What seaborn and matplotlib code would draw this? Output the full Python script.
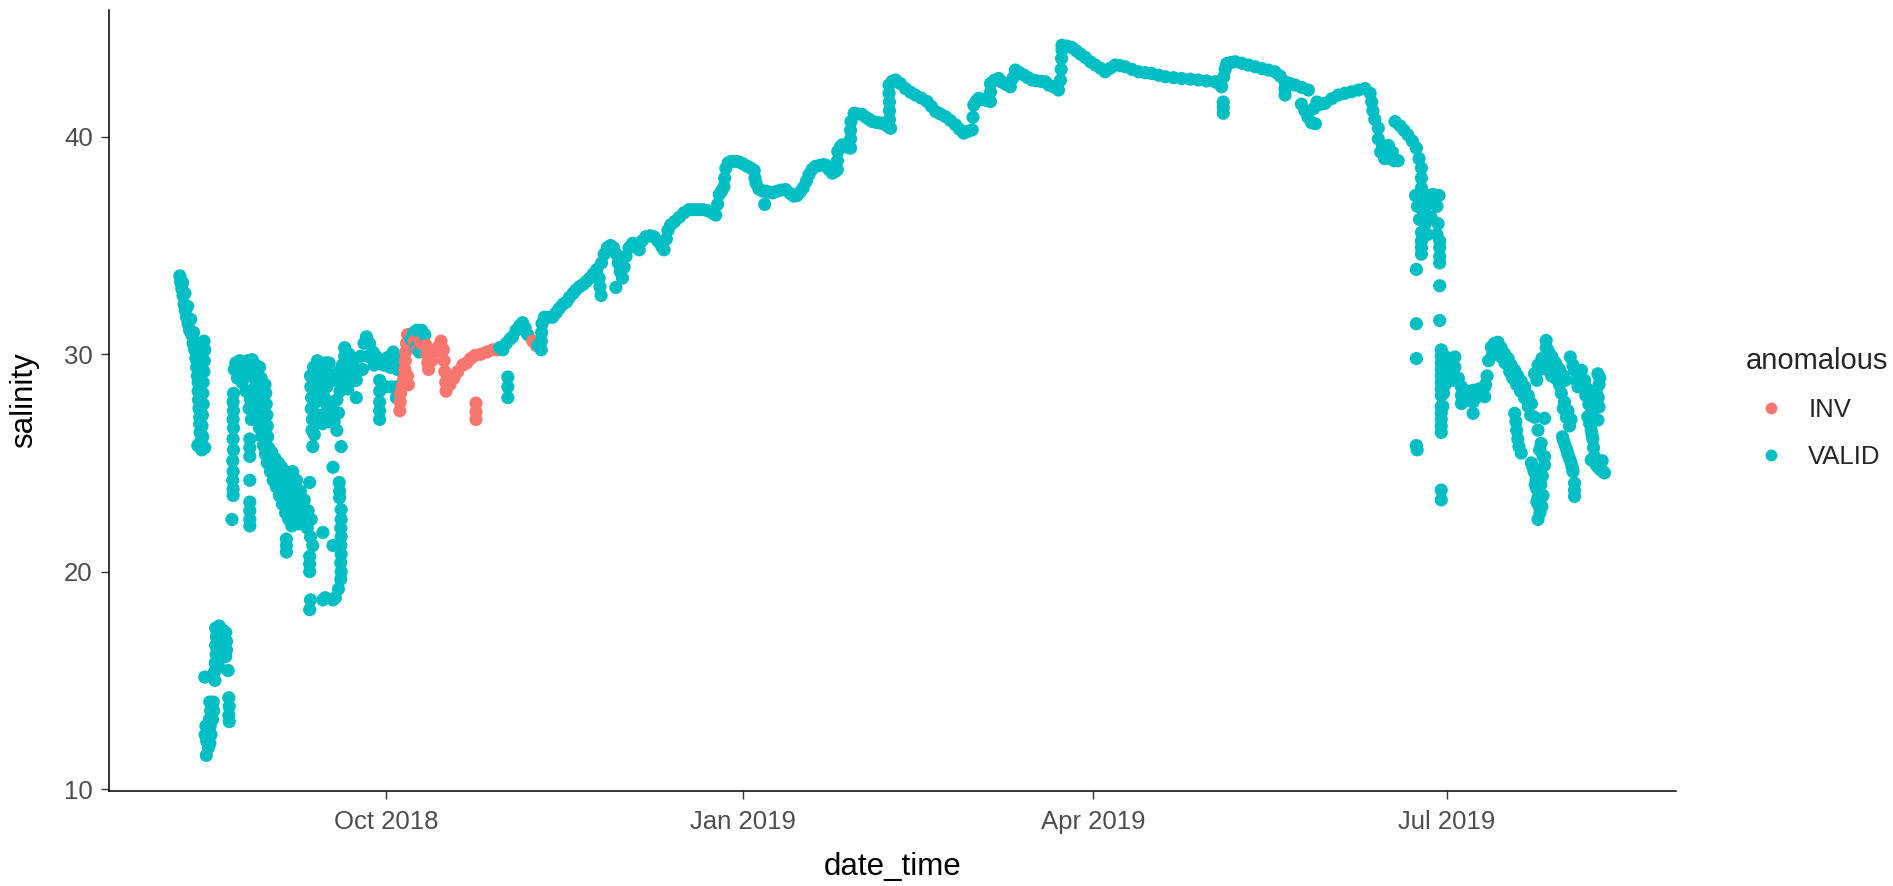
import numpy as np
import pandas as pd
import matplotlib
matplotlib.use("Agg")
import matplotlib.pyplot as plt
import matplotlib.dates as mdates
import seaborn as sns

# Sensor readings: (days relative to 1 Oct 2018, salinity)
ORIGIN = pd.Timestamp("2018-10-01")

summer_2018 = [
    (-53.0, 33.6), (-52.8, 33.3), (-52.5, 33.0), (-52.2, 32.7), (-51.9, 32.3), (-51.6, 32.0),
    (-51.3, 31.7), (-50.9, 31.4), (-50.5, 31.1), (-50.0, 30.9), (-49.6, 30.5), (-49.2, 30.2),
    (-48.9, 29.8), (-48.7, 29.4), (-48.5, 29.0), (-48.3, 28.7), (-48.3, 28.3), (-48.2, 27.9),
    (-48.1, 27.5), (-47.9, 27.1), (-47.9, 26.8), (-47.8, 26.4), (-47.6, 26.0), (-47.4, 25.6),
    (-52.3, 33.3), (-51.7, 32.8), (-51.0, 32.2), (-50.2, 31.6), (-49.5, 31.0), (-48.6, 30.5),
    (-47.6, 30.4), (-46.8, 30.6), (-46.6, 30.2), (-46.7, 29.7), (-46.8, 29.2), (-47.0, 28.7),
    (-47.1, 28.2), (-47.0, 27.7), (-47.2, 27.2), (-47.3, 26.7), (-47.1, 26.2), (-48.4, 25.8),
    (-46.6, 25.7),
    (-43.8, 17.4), (-42.9, 17.5), (-41.9, 17.3), (-41.2, 17.2), (-41.0, 16.8), (-41.0, 16.4),
    (-43.6, 17.0), (-42.5, 16.9), (-43.8, 16.6), (-42.4, 16.4), (-43.7, 16.2), (-42.6, 16.0),
    (-41.2, 16.1), (-43.9, 15.8), (-43.0, 15.6), (-44.1, 15.4), (-46.6, 15.15), (-44.0, 15.0),
    (-40.6, 15.45), (-40.4, 14.2), (-40.3, 13.8), (-40.4, 13.4), (-40.3, 13.1),
    (-45.3, 14.0), (-44.4, 14.0), (-45.1, 13.6), (-44.3, 13.6), (-45.4, 13.2), (-44.6, 13.2),
    (-46.3, 12.9), (-45.2, 12.9), (-46.5, 12.5), (-45.0, 12.5), (-46.1, 12.2), (-45.3, 12.1),
    (-45.7, 11.9), (-46.2, 11.55),
    (-39.2, 28.2), (-39.3, 27.8), (-39.2, 27.4), (-39.3, 27.0), (-39.2, 26.6), (-39.3, 26.1),
    (-39.2, 25.6), (-39.4, 25.1), (-39.3, 24.6), (-39.4, 24.2), (-39.3, 23.8), (-39.3, 23.5),
    (-39.6, 22.4),
    (-39.0, 29.3), (-38.6, 29.6), (-37.6, 29.7), (-36.6, 29.4), (-35.6, 29.7), (-34.4, 29.75),
    (-33.5, 29.5), (-32.5, 29.4), (-38.2, 28.9), (-37.0, 28.7), (-35.2, 29.1), (-33.9, 28.9),
    (-32.1, 28.9), (-31.1, 28.6), (-36.0, 28.3), (-34.8, 27.9), (-33.2, 28.1), (-35.2, 27.5),
    (-34.6, 27.0), (-37.4, 29.2), (-36.2, 29.0), (-34.0, 28.4), (-32.8, 28.6),
    (-35.0, 26.1), (-35.0, 25.7), (-35.0, 25.3), (-35.0, 24.2), (-35.0, 23.2), (-35.0, 22.8),
    (-35.0, 22.4), (-35.0, 22.1),
    (-33.5, 27.5), (-33.0, 27.0), (-32.5, 26.6), (-32.0, 26.2), (-31.5, 25.8), (-31.0, 25.4),
    (-30.5, 25.0), (-29.7, 24.6), (-29.0, 24.2), (-28.2, 23.9), (-27.4, 23.5), (-26.6, 23.1),
    (-25.8, 22.7), (-25.0, 22.4), (-24.2, 22.1), (-32.2, 27.6), (-31.6, 27.0), (-31.1, 26.5),
    (-29.4, 25.5), (-28.5, 25.2), (-27.6, 25.0), (-26.8, 24.8), (-26.0, 24.6), (-25.2, 24.5),
    (-30.9, 28.2), (-30.8, 27.7), (-30.6, 27.2), (-30.5, 26.7), (-30.4, 26.2), (-30.2, 25.7),
    (-29.8, 25.2), (-29.0, 24.9), (-28.2, 24.7), (-27.4, 24.5), (-26.6, 24.3), (-25.8, 24.1),
    (-25.0, 24.0), (-24.2, 23.8), (-23.4, 23.5), (-22.6, 23.2), (-21.8, 22.8), (-21.0, 22.4),
    (-20.2, 22.0), (-19.4, 21.6), (-18.8, 21.2), (-28.5, 24.2), (-27.4, 23.9), (-26.4, 23.7),
    (-25.4, 23.4), (-24.4, 23.0), (-23.4, 22.6), (-22.4, 22.2), (-24.0, 24.6), (-23.0, 24.2),
    (-22.0, 23.7), (-21.0, 23.3), (-20.0, 22.8), (-19.2, 22.4), (-25.6, 21.5), (-25.6, 21.2),
    (-25.6, 20.9),
    (-19.4, 29.0), (-19.3, 28.5), (-19.1, 28.0), (-19.2, 27.5), (-18.9, 27.0), (-19.0, 26.5),
    (-18.6, 29.4), (-17.6, 29.7), (-16.6, 29.5), (-15.6, 29.6), (-14.6, 29.6), (-17.8, 28.8),
    (-16.8, 28.4), (-15.8, 28.0), (-15.0, 27.6), (-14.1, 27.3), (-13.3, 26.9), (-12.6, 26.5),
    (-17.1, 27.2), (-16.3, 26.8), (-13.1, 28.8), (-12.1, 29.2), (-11.2, 29.5), (-10.6, 30.3),
    (-10.6, 29.9), (-18.2, 29.0), (-17.2, 28.3), (-16.0, 29.0), (-15.2, 28.5), (-14.3, 28.8),
    (-13.5, 27.8), (-12.6, 27.9), (-11.8, 28.3), (-10.8, 28.8), (-10.0, 29.6), (-18.0, 27.8),
    (-17.4, 29.2), (-14.8, 29.1), (-12.2, 27.3), (-9.8, 28.4), (-18.4, 26.3), (-14.6, 26.9),
    (-18.8, 25.75), (-19.6, 24.1), (-19.6, 20.7), (-19.6, 20.35), (-19.6, 20.0),
    (-19.4, 18.7), (-19.6, 18.25), (-16.2, 21.8), (-16.2, 18.7), (-15.6, 18.8),
    (-13.6, 24.8), (-12.0, 24.1), (-11.9, 23.7), (-11.9, 23.4), (-11.5, 22.85), (-11.5, 22.4),
    (-11.6, 22.0), (-11.5, 21.6), (-11.6, 21.2), (-11.5, 20.8), (-11.6, 20.4), (-11.5, 20.0),
    (-11.6, 19.65), (-12.2, 19.2), (-13.0, 18.8), (-13.6, 18.7), (-13.6, 21.2), (-11.5, 25.75),
    (-9.5, 30.0), (-8.5, 29.7), (-7.6, 29.3), (-7.6, 28.8), (-7.6, 28.0), (-6.5, 29.9),
    (-5.6, 30.5), (-5.0, 30.8), (-4.2, 30.5), (-3.3, 30.1), (-2.5, 29.9), (-1.5, 29.6),
    (-0.5, 29.5), (0.5, 29.85), (1.1, 29.4), (-1.6, 28.8), (-1.6, 28.3), (-1.6, 27.8),
    (-1.6, 27.4), (-1.6, 27.0), (0.1, 28.5), (1.4, 28.5), (2.7, 28.5), (2.7, 28.0),
    (1.9, 30.1), (2.8, 29.8), (3.0, 29.3), (-9.0, 29.2), (-8.3, 28.8), (-6.0, 29.3),
    (-4.6, 29.9), (-3.0, 29.5),
]

autumn_2018 = [
    (6.4, 30.7), (7.2, 31.0), (8.0, 31.1), (9.2, 31.1), (10.0, 30.9), (7.8, 30.3), (8.6, 30.1),
    (29.3, 30.3), (30.1, 30.2), (31.0, 30.5), (32.0, 30.7), (32.6, 30.8), (33.5, 31.1),
    (34.4, 31.3), (35.2, 31.45), (35.9, 31.2), (36.5, 30.9), (31.4, 28.95), (31.4, 28.5),
    (31.4, 28.0), (39.2, 30.4), (40.0, 30.2), (40.0, 30.6), (40.1, 31.0), (40.2, 31.4),
    (40.8, 31.7), (41.8, 31.7), (42.9, 31.7), (43.8, 31.9), (44.6, 32.1), (45.6, 32.3),
    (46.5, 32.4), (47.2, 32.6), (48.2, 32.8), (48.9, 32.95), (49.8, 33.1), (50.7, 33.2),
    (51.6, 33.35), (52.5, 33.5), (53.4, 33.7), (54.3, 33.9), (54.9, 33.5), (55.1, 33.1),
    (55.4, 32.7), (55.5, 34.2), (56.2, 34.6), (57.0, 34.9), (57.8, 35.0), (58.6, 34.9),
    (59.3, 34.6), (59.2, 33.07), (59.8, 34.2), (60.3, 33.8), (60.9, 33.5), (61.3, 34.0),
    (61.8, 34.5), (62.6, 34.9), (63.5, 35.1), (64.4, 35.0), (65.2, 34.8), (65.9, 35.2),
    (66.9, 35.4), (68.0, 35.45), (69.0, 35.4), (70.0, 35.2), (71.0, 34.95), (71.6, 34.8),
    (72.2, 35.3), (72.6, 35.7), (73.3, 35.95), (74.3, 36.1), (75.5, 36.3), (76.7, 36.5),
    (78.0, 36.65), (79.2, 36.65), (80.4, 36.65), (81.6, 36.65), (82.8, 36.6), (84.0, 36.5),
    (84.9, 36.4), (85.4, 36.9), (85.8, 37.35), (86.4, 37.5), (87.0, 37.7), (87.2, 38.1),
    (87.5, 38.55), (88.1, 38.8), (88.9, 38.87), (89.9, 38.87), (90.9, 38.84),
]

winter_2019 = [
    (92.0, 38.75), (93.0, 38.64), (94.0, 38.55), (94.8, 38.45), (95.0, 38.1), (95.3, 37.85),
    (96.0, 37.6), (97.0, 37.5), (97.8, 37.5), (97.5, 36.89), (98.7, 37.45), (99.6, 37.42),
    (100.7, 37.5), (101.8, 37.55), (102.9, 37.57), (104.0, 37.4), (105.0, 37.27), (105.8, 37.3),
    (106.6, 37.45), (107.4, 37.65), (108.2, 37.95), (108.9, 38.26), (109.7, 38.5), (110.6, 38.64),
    (111.6, 38.68), (112.5, 38.72), (113.2, 38.7), (114.0, 38.5), (114.9, 38.33), (115.6, 38.4),
    (116.2, 38.49), (116.2, 38.9), (116.3, 39.33), (117.0, 39.55), (117.5, 39.63), (118.3, 39.6),
    (119.0, 39.5), (119.6, 39.48), (119.6, 39.9), (119.6, 40.3), (119.7, 40.7), (120.5, 41.08),
    (121.5, 41.05), (122.6, 41.03), (123.5, 40.9), (124.4, 40.8), (125.2, 40.7), (126.1, 40.67),
    (127.0, 40.64), (127.7, 40.62), (128.6, 40.55), (129.4, 40.45), (129.9, 40.39), (129.6, 40.8),
    (129.6, 41.2), (129.6, 41.6), (129.5, 42.0), (129.5, 42.38), (130.3, 42.55), (131.2, 42.61),
    (132.4, 42.45), (133.7, 42.22), (135.0, 42.05), (136.3, 41.92), (137.8, 41.78), (139.3, 41.62),
    (140.4, 41.4), (141.5, 41.16), (142.7, 41.05), (144.0, 40.93), (145.3, 40.75), (146.6, 40.55),
    (147.6, 40.35), (148.7, 40.17), (149.8, 40.25), (150.9, 40.32), (151.1, 40.9), (151.3, 41.46),
    (152.0, 41.65), (152.6, 41.77), (153.6, 41.72), (154.6, 41.67), (155.6, 41.62), (155.6, 42.05),
    (155.6, 42.45), (156.6, 42.6), (157.7, 42.68), (158.7, 42.5), (159.7, 42.4), (160.7, 42.3),
    (161.4, 42.7), (162.0, 43.07), (163.1, 42.95), (164.2, 42.84), (165.2, 42.72), (166.3, 42.61),
    (167.4, 42.58), (168.6, 42.55), (169.7, 42.53), (170.6, 42.38), (171.8, 42.3), (173.1, 42.15),
    (173.6, 42.6), (173.8, 43.1), (173.9, 43.6), (174.0, 44.0), (174.0, 44.21),
]

spring_2019 = [
    (175.3, 44.17), (176.6, 44.1), (177.7, 43.95), (178.8, 43.8), (180.0, 43.65), (181.3, 43.45),
    (182.6, 43.3), (183.9, 43.15), (185.1, 42.99), (186.4, 43.15), (187.7, 43.3), (189.0, 43.27),
    (190.3, 43.22), (192.0, 43.1), (193.7, 42.99), (195.4, 42.95), (197.1, 42.91), (198.9, 42.83),
    (200.6, 42.76), (202.7, 42.72), (204.8, 42.68), (207.0, 42.65), (209.1, 42.61), (211.2, 42.57),
    (213.4, 42.53), (214.3, 42.45), (215.1, 42.3), (215.5, 41.6), (215.5, 41.35), (215.5, 41.08),
    (215.6, 42.75), (216.0, 43.1), (216.4, 43.37), (217.5, 43.42), (218.6, 43.45), (220.3, 43.38),
    (222.0, 43.3), (223.7, 43.22), (225.4, 43.14), (227.1, 43.07), (228.8, 42.99), (230.1, 42.8),
    (231.4, 42.53), (231.4, 42.2), (231.4, 41.92), (232.7, 42.45), (234.0, 42.38), (235.7, 42.27),
    (237.4, 42.15), (235.6, 41.5), (236.5, 41.2), (237.3, 40.9), (238.2, 40.65), (239.2, 40.6),
    (238.8, 41.3), (239.6, 41.6), (240.6, 41.5), (241.7, 41.54), (243.4, 41.75), (245.1, 41.92),
    (246.8, 42.0), (248.5, 42.07), (250.3, 42.15), (252.0, 42.22), (253.3, 42.0), (253.7, 41.6),
    (254.0, 41.2), (254.5, 40.8), (255.4, 40.4), (255.4, 39.9), (256.5, 39.6), (257.5, 39.3),
    (258.5, 39.0), (259.5, 38.9), (260.5, 38.9), (256.0, 39.3), (257.0, 39.0), (258.0, 39.6),
    (259.0, 39.3), (259.7, 40.7), (261.0, 40.5), (262.0, 40.3), (263.0, 40.09), (264.2, 39.8),
    (265.2, 39.48), (265.9, 39.0), (266.5, 38.56), (266.5, 38.1), (266.5, 37.65),
]

summer_2019 = [
    (265.0, 37.3), (266.5, 37.3), (268.0, 37.3), (269.5, 37.35), (271.0, 37.3), (265.5, 36.8),
    (267.0, 36.6), (268.5, 36.9), (270.5, 36.8), (266.0, 36.2), (267.5, 36.0), (269.0, 36.3),
    (270.8, 36.0), (266.5, 35.6), (268.0, 35.5), (270.5, 35.5), (266.5, 35.2), (266.5, 34.9),
    (266.5, 34.6), (271.2, 35.2), (271.2, 34.9), (271.2, 34.5), (271.2, 34.2), (265.2, 33.9),
    (271.2, 33.15), (271.2, 31.55), (265.2, 31.4), (265.2, 29.8), (265.2, 25.8), (265.4, 25.6),
    (271.6, 23.75), (271.6, 23.3),
    (271.6, 30.2), (271.6, 29.9), (271.6, 29.6), (271.6, 29.3), (271.6, 29.0), (271.6, 28.7),
    (271.6, 28.4), (271.6, 28.1), (271.6, 27.6), (271.6, 27.3), (271.6, 27.0), (271.6, 26.7),
    (271.6, 26.4), (272.6, 29.9), (272.8, 29.3), (272.6, 28.6), (272.2, 29.6), (272.4, 28.9),
    (272.2, 28.2), (272.0, 27.6), (274.0, 29.6), (275.1, 29.87), (273.5, 29.0), (274.5, 28.8),
    (275.1, 29.4), (275.1, 28.95), (276.0, 28.9), (276.8, 28.5), (276.8, 28.1), (276.8, 27.73),
    (277.5, 28.0), (278.3, 28.3), (278.8, 27.9), (279.8, 28.34), (279.8, 27.8), (279.8, 27.28),
    (280.5, 28.0), (281.3, 28.4), (281.8, 28.2), (282.8, 28.5), (282.8, 28.04), (283.0, 28.6),
    (283.4, 29.0), (283.8, 29.7), (284.5, 30.33), (285.3, 30.5), (286.2, 30.55), (287.0, 30.3),
    (287.9, 30.02), (288.8, 29.8), (289.6, 29.5), (290.5, 29.26), (291.3, 29.0), (292.2, 28.75),
    (293.1, 28.5), (294.0, 28.1), (294.8, 27.73), (295.6, 27.1), (296.5, 26.51), (297.3, 25.9),
    (298.2, 25.29), (284.8, 30.0), (285.8, 30.2), (286.8, 29.9), (288.0, 29.6), (289.2, 29.2),
    (290.0, 28.9), (291.0, 28.6), (292.0, 28.3), (293.0, 28.0), (294.0, 27.6), (294.6, 27.2),
    (290.5, 27.28), (290.8, 26.9), (291.0, 26.5), (291.3, 26.1), (291.6, 25.75),
    (292.2, 25.45), (294.8, 25.0), (295.5, 24.6), (296.0, 24.2), (296.2, 23.8), (296.5, 23.4),
    (296.8, 23.0), (297.0, 22.7), (296.5, 22.4), (298.2, 24.9), (297.6, 24.4), (297.8, 23.5),
    (295.2, 24.8), (295.8, 24.0), (296.2, 23.2), (297.2, 24.0), (297.5, 23.0), (296.9, 25.6),
    (297.8, 25.3),
    (295.6, 29.1), (296.5, 29.5), (297.5, 29.8), (298.6, 30.63), (298.6, 30.3), (299.5, 30.0),
    (300.5, 29.7), (301.5, 29.4), (302.5, 29.1), (303.5, 28.8), (299.5, 29.2), (301.0, 28.9),
    (297.0, 29.3), (298.0, 29.6), (299.0, 30.2), (300.0, 29.9), (301.0, 29.6), (302.0, 29.3),
    (303.0, 29.0), (300.0, 29.0), (302.0, 28.6),
    (296.2, 28.8), (298.2, 27.05), (302.5, 28.2), (303.3, 27.8), (304.2, 27.4), (305.0, 27.0),
    (303.0, 27.5), (303.8, 27.1), (304.6, 26.7), (303.1, 26.0), (303.9, 25.6), (304.6, 25.2),
    (305.3, 24.8),
    (302.8, 26.2), (303.5, 25.8), (304.2, 25.4), (305.0, 25.0), (305.5, 24.6), (305.9, 24.07),
    (305.9, 23.75), (305.9, 23.46), (306.3, 28.8), (305.5, 29.5), (304.8, 29.87), (305.9, 29.26),
    (306.8, 28.5), (307.7, 29.26), (308.5, 28.8), (309.2, 28.4), (310.0, 28.0), (310.8, 27.6),
    (308.0, 28.5), (308.8, 28.1), (309.6, 27.7), (310.4, 27.4), (311.2, 27.6), (312.0, 28.0),
    (312.4, 28.9), (309.8, 26.8), (310.4, 26.3), (311.4, 25.0), (312.0, 24.8), (313.2, 24.6),
    (311.5, 28.3), (311.9, 29.1), (312.2, 28.6), (312.2, 27.57), (309.3, 27.12), (311.9, 26.97),
    (310.2, 26.5), (310.6, 26.1), (310.8, 25.7), (311.0, 25.3), (310.2, 25.14), (311.5, 24.9),
    (312.5, 24.7), (313.6, 24.54), (313.0, 25.1),
]

# Readings flagged as invalid
invalid_oct_2018 = [
    (3.6, 27.4), (3.7, 27.8), (3.8, 28.2), (4.2, 28.5), (4.6, 28.9), (4.9, 29.3), (5.0, 29.7),
    (5.1, 30.1), (5.3, 30.5), (5.6, 30.9), (6.2, 30.7), (5.6, 29.0), (5.8, 28.6), (7.3, 30.6),
    (8.2, 30.2), (9.0, 30.5), (9.8, 30.8), (10.4, 30.4), (10.6, 30.0), (10.8, 29.6), (11.0, 29.3),
    (11.8, 29.7), (12.6, 30.1), (13.4, 30.3), (14.2, 30.6), (14.8, 30.2), (15.0, 29.7),
    (15.2, 29.2), (15.4, 28.7), (15.5, 28.3), (16.5, 28.6), (17.5, 28.9), (18.5, 29.2),
    (19.8, 29.5), (20.8, 29.6), (21.8, 29.8), (23.0, 29.95), (24.5, 30.0), (26.0, 30.1),
    (27.5, 30.2), (28.6, 30.2), (23.2, 27.75), (23.2, 27.35), (23.2, 27.0), (37.8, 30.6),
    (38.7, 30.4),
]

x_ticks = ["2018-10-01", "2019-01-01", "2019-04-01", "2019-07-01"]
x_tick_labels = ["Oct 2018", "Jan 2019", "Apr 2019", "Jul 2019"]
y_ticks = [10, 20, 30, 40]
palette = {"INV": "#F8766D", "VALID": "#00BFC4"}


def frame(rows, flag):
    d = pd.DataFrame(rows, columns=["day", "salinity"])
    d["anomalous"] = flag
    return d


valid_rows = summer_2018 + autumn_2018 + winter_2019 + spring_2019 + summer_2019
df = pd.concat([frame(valid_rows, "VALID"), frame(invalid_oct_2018, "INV")], ignore_index=True)
df["date_time"] = ORIGIN + pd.to_timedelta(df["day"], unit="D")
df = df.sort_values("date_time").reset_index(drop=True)

sns.set_style("ticks")
plt.rcParams["font.family"] = ["Liberation Sans", "DejaVu Sans"]

fig = plt.figure(figsize=(18.93, 8.86), dpi=100)
ax = fig.add_axes([0.0574, 0.1074, 0.8278, 0.8816])

sns.scatterplot(data=df, x="date_time", y="salinity", hue="anomalous",
                hue_order=["INV", "VALID"], palette=palette, s=90, linewidth=0,
                alpha=1, ax=ax)

# ggplot-like 5 % expansion of the data range
t0, t1 = df["date_time"].min(), df["date_time"].max()
pad_t = (t1 - t0) * 0.05
ax.set_xlim(t0 - pad_t, t1 + pad_t)
s0, s1 = df["salinity"].min(), df["salinity"].max()
pad_s = (s1 - s0) * 0.05
ax.set_ylim(s0 - pad_s, s1 + pad_s)

ax.set_xticks([mdates.date2num(pd.Timestamp(t)) for t in x_ticks])
ax.set_xticklabels(x_tick_labels)
ax.set_yticks(y_ticks)

for side in ["top", "right"]:
    ax.spines[side].set_visible(False)
for side in ["left", "bottom"]:
    ax.spines[side].set_linewidth(1.1)
    ax.spines[side].set_color("black")

ax.tick_params(axis="both", length=5.5, width=1.0, color="#333333",
               labelsize=18.5, labelcolor="#4D4D4D")
ax.tick_params(axis="x", pad=8)
ax.tick_params(axis="y", pad=6)

ax.set_xlabel("date_time", fontsize=22.5, color="black")
ax.set_ylabel("salinity", fontsize=22.5, color="black")
ax.xaxis.set_label_coords(0.5, -0.098)
ax.xaxis.label.set_va("center")
ax.yaxis.set_label_coords(-0.054, 0.5)
ax.yaxis.label.set_va("center")

sns.move_legend(ax, "upper left", bbox_to_anchor=(0.922, 0.608),
                bbox_transform=fig.transFigure, frameon=False, title="anomalous",
                fontsize=18.5, title_fontsize=21, handletextpad=0.45, labelspacing=0.9,
                borderaxespad=0, borderpad=0)
leg = ax.get_legend()
leg._legend_box.align = "left"
leg._legend_box.sep = 16
for h in leg.legend_handles:
    try:
        h.set_markersize(8.5)
    except AttributeError:
        h.set_sizes([60])

fig.savefig("out.png", dpi=100)
